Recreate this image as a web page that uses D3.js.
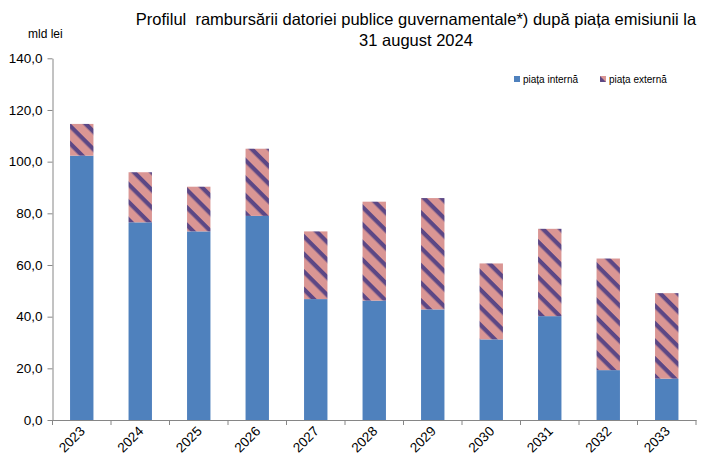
<!DOCTYPE html>
<html>
<head>
<meta charset="utf-8">
<script src="https://cdn.jsdelivr.net/npm/d3@7"></script>
<style>
  html, body { margin: 0; padding: 0; background: #fff; }
  svg { display: block; font-family: "Liberation Sans", Arial, sans-serif; }
</style>
</head>
<body>
<svg id="chart" width="703" height="459"></svg>
<script>
const years = ["2023","2024","2025","2026","2027","2028","2029","2030","2031","2032","2033"];
const pietaInterna = [102.3, 76.5, 73.0, 79.0, 46.8, 46.2, 42.8, 31.2, 40.2, 19.3, 16.0];
const pietaExterna = [12.3, 19.4, 17.3, 26.0, 26.2, 38.3, 43.1, 29.4, 33.8, 43.2, 33.1];
const yTicks = [0, 20, 40, 60, 80, 100, 120, 140];
const seriesNames = ["piața internă", "piața externă"];
const titleLines = ["Profilul  rambursării datoriei publice guvernamentale*) după piața emisiunii la", "31 august 2024"];
const unitLabel = "mld lei";

const svg = d3.select("#chart");
const blue = "#4F81BD", pink = "#DA9694", purple = "#5C4785";

// pattern
const defs = svg.append("defs");
const tile = 12.45;
const pat = defs.append("pattern")
  .attr("id", "ext").attr("patternUnits", "userSpaceOnUse")
  .attr("width", tile).attr("height", tile)
  .attr("patternTransform", "rotate(45)");
pat.append("rect").attr("width", tile).attr("height", tile).attr("fill", pink);
pat.append("rect").attr("width", tile).attr("height", tile * 0.34).attr("fill", purple);

const x = d3.scaleBand().domain(years).range([52.5, 696]).paddingInner(0.6).paddingOuter(0.3);
const y = d3.scaleLinear().domain([0, 140]).range([420, 58.3]);

const data = years.map((yr, i) => ({year: yr, a: pietaInterna[i], b: pietaExterna[i]}));

// bars
svg.append("g").selectAll("rect").data(data).join("rect")
  .attr("x", d => x(d.year)).attr("width", x.bandwidth())
  .attr("y", d => y(d.a)).attr("height", d => y(0) - y(d.a))
  .attr("fill", blue);
svg.append("g").selectAll("rect").data(data).join("rect")
  .attr("x", d => x(d.year)).attr("width", x.bandwidth())
  .attr("y", d => y(d.a + d.b)).attr("height", d => y(d.a) - y(d.a + d.b))
  .attr("fill", "url(#ext)");

// y axis
const fmt = v => d3.format(".1f")(v).replace(".", ",");
const yAxis = svg.append("g").attr("transform", "translate(52.5,0)")
  .call(d3.axisLeft(y).tickValues(yTicks).tickFormat(fmt).tickSizeInner(5).tickSizeOuter(0).tickPadding(5));
yAxis.select(".domain").attr("stroke", "#868686");
yAxis.selectAll(".tick line").attr("stroke", "#868686");
yAxis.selectAll("text").attr("font-size", 13.5).attr("fill", "#000").attr("font-family", "Liberation Sans, Arial, sans-serif");

// x axis
const xAxis = svg.append("g").attr("transform", "translate(0,420)")
  .call(d3.axisBottom(x).tickSize(0).tickFormat(""));
xAxis.select(".domain").attr("stroke", "#868686");
const step = x.step();
const boundaries = d3.range(years.length + 1).map(i => x(years[0]) - x.paddingOuter() * step + i * step);
xAxis.selectAll("line.bt").data(boundaries).join("line").attr("class", "bt")
  .attr("x1", d => d).attr("x2", d => d).attr("y1", 0).attr("y2", 5).attr("stroke", "#868686");
svg.append("g").selectAll("text").data(years).join("text")
  .attr("transform", d => `translate(${x(d) + x.bandwidth() / 2 + 4},432) rotate(-45)`)
  .attr("text-anchor", "end").attr("font-size", 13.5).attr("fill", "#000")
  .text(d => d);

// title
svg.append("g").selectAll("text").data(titleLines).join("text")
  .attr("x", 416).attr("y", (d, i) => 25 + i * 21)
  .attr("text-anchor", "middle").attr("font-size", 16.5).attr("fill", "#000")
  .style("white-space", "pre")
  .text(d => d);

svg.append("text").attr("x", 28).attr("y", 38).attr("font-size", 12).text(unitLabel);

// legend
const legX = [514, 600];
const lg = svg.append("g").selectAll("g").data(seriesNames).join("g")
  .attr("transform", (d, i) => `translate(${legX[i]},76)`);
lg.append("rect").attr("width", 6).attr("height", 6)
  .attr("fill", (d, i) => i === 0 ? blue : "url(#ext)");
lg.append("text").attr("x", 9).attr("y", 6.5).attr("font-size", 10).text(d => d);
</script>
</body>
</html>
